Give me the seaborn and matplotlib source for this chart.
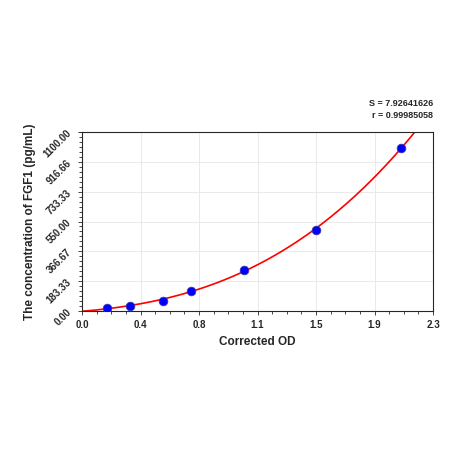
import numpy as np
import matplotlib
matplotlib.use("Agg")
import matplotlib.pyplot as plt
import seaborn as sns
from matplotlib.ticker import AutoMinorLocator

od = [0.166, 0.315, 0.528, 0.712, 1.059, 1.531, 2.09]
conc = [15.6, 31.25, 62.5, 125, 250, 500, 1000]
xticks = [0, 2.3/6, 2*2.3/6, 3*2.3/6, 4*2.3/6, 5*2.3/6, 2.3]
xlabels = ["0.0", "0.4", "0.8", "1.1", "1.5", "1.9", "2.3"]
yticks = [0, 183.33, 366.67, 550, 733.33, 916.66, 1100]
ylabels = ["0.00", "183.33", "366.67", "550.00", "733.33", "916.66", "1100.00"]

sns.set_style("white")
plt.rcParams['font.family'] = ['Liberation Sans', 'DejaVu Sans']
fig = plt.figure(figsize=(4.5, 4.5), dpi=100)
ax = fig.add_axes([82/450, 1-311/450, (433-82)/450, (311-132)/450])

coef = np.polyfit([0]+od, [0]+conc, 3)
xs = np.linspace(0, 2.3, 400)
ys = np.polyval(coef, xs)
sns.lineplot(x=xs, y=ys, color="red", lw=1.2, ax=ax)
sns.scatterplot(x=od, y=conc, color="blue", s=40, edgecolor="#4040a0", linewidth=0.5, zorder=5, ax=ax)

ax.set_xlim(0, 2.3)
ax.set_ylim(0, 1100)
ax.set_xticks(xticks)
ax.set_xticklabels(xlabels, fontsize=7, fontweight="bold")
ax.set_yticks(yticks)
ax.set_yticklabels(ylabels, fontsize=7, rotation=45, fontweight="bold")
ax.xaxis.set_minor_locator(AutoMinorLocator(4))
ax.yaxis.set_minor_locator(AutoMinorLocator(6))
ax.tick_params(which="both", direction="out", length=3, width=0.6, left=True, bottom=True)
ax.tick_params(which="minor", length=2)
ax.grid(True, color="#e6e6e6", lw=0.6)
for s in ax.spines.values():
    s.set_linewidth(0.8)
ax.set_xlabel("Corrected OD", fontsize=8.5, fontweight="bold")
ax.set_ylabel("The concentration of FGF1 (pg/mL)", fontsize=8.5, fontweight="bold")
fig.text(433/450, 1-104/450, "S = 7.92641626", ha="right", va="center", fontsize=6.5, fontweight="bold")
fig.text(433/450, 1-116/450, "r = 0.99985058", ha="right", va="center", fontsize=6.5, fontweight="bold")
fig.savefig("out.png", dpi=100, facecolor="white")
